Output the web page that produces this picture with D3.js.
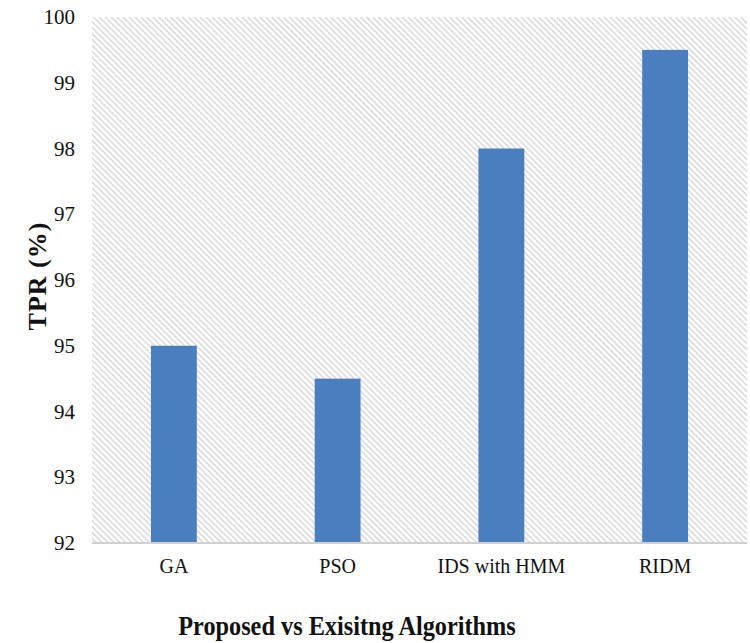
<!DOCTYPE html>
<html>
<head>
<meta charset="utf-8">
<script src="https://cdn.jsdelivr.net/npm/d3@7"></script>
<style>
  html, body { margin: 0; padding: 0; background: #fff; }
  svg { display: block; }
  text { font-family: "Liberation Serif", "Times New Roman", serif; fill: #111; }
</style>
</head>
<body>
<svg id="chart" width="750" height="643"></svg>
<script>
// TPR of the compared intrusion detection approaches
const categories = ["GA", "PSO", "IDS with HMM", "RIDM"];
const tprValues = [95, 94.5, 98, 99.5];
const yTicks = [92, 93, 94, 95, 96, 97, 98, 99, 100];

const width = 750, height = 643;
const margin = { top: 17, right: 3, bottom: 100, left: 92 };
const innerW = width - margin.left - margin.right;
const innerH = height - margin.top - margin.bottom;

const svg = d3.select("#chart");

// diagonal hatch used for the plot background
const defs = svg.append("defs");
const pat = defs.append("pattern")
  .attr("id", "hatch")
  .attr("patternUnits", "userSpaceOnUse")
  .attr("width", 4.2).attr("height", 4.2)
  .attr("patternTransform", "rotate(-45)");
pat.append("rect").attr("width", 4.2).attr("height", 4.2).attr("fill", "#ffffff");
pat.append("line")
  .attr("x1", 1).attr("y1", 0).attr("x2", 1).attr("y2", 4.2)
  .attr("stroke", "#d6d6d6").attr("stroke-width", 1.4);

const g = svg.append("g").attr("transform", `translate(${margin.left},${margin.top})`);

const x = d3.scaleBand().domain(categories).range([0, innerW]).paddingInner(0.72).paddingOuter(0.36);
const y = d3.scaleLinear().domain([92, 100]).range([innerH, 0]);

g.append("rect")
  .attr("x", 0).attr("y", 0)
  .attr("width", innerW).attr("height", innerH)
  .attr("fill", "url(#hatch)");

// bars
g.selectAll("rect.bar")
  .data(categories.map((c, i) => ({ c, v: tprValues[i] })))
  .join("rect")
  .attr("class", "bar")
  .attr("x", d => x(d.c))
  .attr("y", d => y(d.v))
  .attr("width", x.bandwidth())
  .attr("height", d => y(92) - y(d.v))
  .attr("fill", "#4a7ebe");

// y axis (labels only)
const yAxis = g.append("g")
  .call(d3.axisLeft(y).tickValues(yTicks).tickFormat(d3.format("d")).tickSize(0).tickPadding(17));
yAxis.select(".domain").remove();
yAxis.selectAll("text")
  .style("font-family", "'Liberation Serif', 'Times New Roman', serif")
  .style("font-size", "21px")
  .attr("fill", "#111");

// x axis
const xAxis = g.append("g")
  .attr("transform", `translate(0,${innerH})`)
  .call(d3.axisBottom(x).tickSize(0).tickPadding(16));
xAxis.select(".domain").attr("stroke", "#d0d0d0").attr("stroke-width", 2).attr("d", `M0,0H${innerW}`);
xAxis.selectAll("text")
  .style("font-family", "'Liberation Serif', 'Times New Roman', serif")
  .style("font-size", "20px")
  .attr("fill", "#111");

// axis titles
svg.append("text")
  .attr("transform", "translate(347,635) scale(0.9,1)")
  .attr("text-anchor", "middle")
  .style("font-size", "27px").style("font-weight", "bold")
  .text("Proposed vs Exisitng Algorithms");

svg.append("text")
  .attr("transform", "translate(46,276) rotate(-90)")
  .attr("text-anchor", "middle")
  .style("font-size", "26px").style("font-weight", "bold")
  .style("letter-spacing", "1px")
  .text("TPR (%)");
</script>
</body>
</html>
